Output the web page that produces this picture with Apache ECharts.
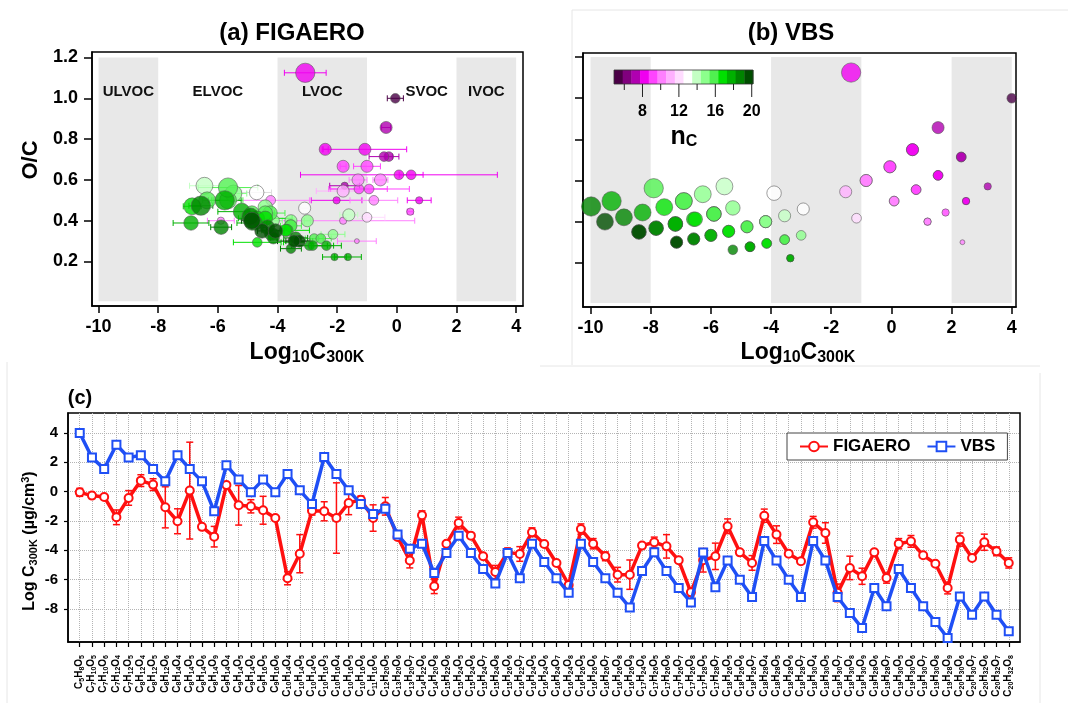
<!DOCTYPE html>
<html>
<head>
<meta charset="utf-8">
<title>FIGAERO vs VBS volatility</title>
<script src="https://cdn.jsdelivr.net/npm/echarts@6/dist/echarts.min.js"></script>
<style>
  html, body { margin: 0; padding: 0; background: #fff; }
  #chart { width: 1068px; height: 703px; }
</style>
</head>
<body>
<div id="chart"></div>
<script>
// ---- data ----
const compounds = ['C5H8O5','C7H10O5','C7H10O6','C7H12O4','C7H12O5','C8H12O4','C8H12O5','C8H12O6','C8H14O4','C8H14O5',
  'C8H14O6','C8H14O9','C9H14O4','C9H14O5','C9H14O6','C9H16O5','C9H16O6','C10H14O4','C10H14O5','C10H14O6',
  'C10H16O3','C10H16O4','C10H16O5','C10H16O6','C11H16O6','C12H20O5','C13H20O6','C13H20O7','C14H22O6','C14H20O8',
  'C15H22O6','C15H24O5','C15H24O6','C15H24O7','C15H24O8','C15H26O6','C16H22O7','C16H24O5','C16H24O6','C16H24O7',
  'C16H24O8','C16H26O5','C16H26O6','C16H26O7','C16H26O8','C16H26O9','C17H24O6','C17H26O5','C17H26O6','C17H26O7',
  'C17H26O8','C17H28O5','C17H28O7','C18H26O5','C18H26O6','C18H26O7','C18H28O4','C18H28O5','C18H28O6','C18H28O7',
  'C18H30O4','C18H30O5','C18H30O7','C18H30O8','C18H30O9','C19H28O6','C19H28O7','C19H30O5','C19H30O6','C19H30O7',
  'C19H30O8','C19H28O9','C20H30O6','C20H30O7','C20H32O6','C20H32O7','C20H32O8']

// log10 C300K from FIGAERO thermograms, with uncertainty
const figaeroLogC = [-0.05,-0.27,-0.36,-1.75,-0.43,0.75,0.48,-1.07,-2.02,0.07,
  -2.4,-3.07,0.45,-0.93,-1.0,-1.27,-1.8,-5.9,-4.23,-1.3,
  -1.34,-1.8,-0.77,-0.55,-1.8,-1.0,-3.09,-4.7,-1.61,-6.45,
  -3.55,-2.14,-3.0,-4.41,-5.48,-4.14,-4.25,-2.77,-3.57,-4.86,
  -6.36,-2.55,-3.55,-4.41,-5.66,-5.66,-3.68,-3.45,-3.73,-4.68,
  -6.86,-4.68,-4.41,-2.36,-4.14,-4.86,-1.64,-2.93,-4.23,-4.75,
  -2.09,-2.82,-6.9,-5.2,-5.77,-4.14,-5.89,-3.55,-3.39,-4.34,
  -4.91,-6.57,-3.27,-4.52,-3.45,-4.07,-4.86]
const figaeroErr = [0.27,0.12,0.15,0.5,0.5,0.4,0.4,1.4,0.85,3.3,
  0.1,0.7,0.1,1.35,0.45,0.95,0.1,0.45,1.3,0.3,
  0.65,2.4,0.8,0.25,0.9,0.6,0.15,0.5,0.3,0.5,
  0.1,0.4,0.1,0.15,0.45,0.3,0.5,0.3,0.15,0.15,
  0.15,0.35,0.35,0.3,0.5,1.0,0.1,0.35,0.8,0.15,
  0.3,0.8,0.9,0.5,0.15,0.5,0.45,0.6,0.15,0.15,
  0.4,0.7,0.6,0.8,0.55,0.1,0.35,0.35,0.4,0.15,
  0.15,0.4,0.45,0.15,0.55,0.3,0.35]
// log10 C300K from the VBS parameterisation
const vbsLogC = [4.0,2.32,1.55,3.2,2.32,2.48,1.55,0.7,2.48,1.55,
  0.7,-1.34,1.8,0.82,-0.05,0.82,-0.05,1.2,0.09,-0.84,
  2.36,1.2,0.09,-0.84,-1.52,-1.16,-2.93,-3.9,-3.55,-5.55,
  -4.18,-3.0,-4.18,-5.27,-6.27,-4.18,-5.9,-3.55,-4.8,-5.9,
  -6.9,-3.55,-4.8,-5.9,-6.9,-7.9,-5.41,-4.14,-5.41,-6.57,
  -7.55,-4.15,-6.52,-4.7,-6.0,-7.18,-3.36,-4.7,-6.0,-7.18,
  -3.36,-4.7,-7.18,-8.27,-9.3,-6.57,-7.82,-5.27,-6.57,-7.82,
  -8.89,-9.98,-7.14,-8.39,-7.14,-8.39,-9.52]

// axis ticks
const volTicks = [-10, -8, -6, -4, -2, 0, 2, 4]
const ocTicks = [0.2, 0.4, 0.6, 0.8, 1.0, 1.2]
const logCTicks = [-8, -6, -4, -2, 0, 2, 4]
const ncTicks = [8, 12, 16, 20]
const ncMinorTicks = [6, 10, 14, 18]

// volatility classes (shaded ranges and labels)
const volatilityBands = [[-10, -8], [-4, -1], [2, 4]]
const volatilityNames = ['ULVOC', 'ELVOC', 'LVOC', 'SVOC', 'IVOC']
const volatilityNamePos = [-9, -6, -2.5, 1, 3]

// nC colour table (16 steps)
const ncColors = ['#4a0046','#80007e','#b000b0','#f000f0','#ff44ff','#ff80ff','#ffb0ff','#ffdcff',
  '#ffffff','#c4ffc4','#8cff8c','#50f050','#00e000','#00b000','#008400','#004e00']
const ncRange = [4.87, 20.14]

const FONT = '"Liberation Sans", Arial, Helvetica, sans-serif'
const RED = '#ff1010'
const BLUE = '#1f4ff5'

const formulaParts = compounds.map(f => {
    const m = f.match(/C(\d+)H(\d+)O(\d+)/)
    return { nC: +m[1], nO: +m[3] }
})
const ratioOC = formulaParts.map(p => p.nO / p.nC)

const ncColor = nc => {
    const step = (ncRange[1] - ncRange[0]) / ncColors.length
    const k = Math.max(0, Math.min(ncColors.length - 1, Math.floor((nc - ncRange[0]) / step)))
    return ncColors[k]
}
const errColor = nc => (ncColor(nc) === '#ffffff' ? '#dddddd' : ncColor(nc))
const markerSize = nO => 2.4 * nO - 2.3

const formulaRich = f => f.replace(/([A-Z])(\d+)/g, '{c|$1}{s|$2}')

// ---- shared axis pieces ----
const boxAxisLine = { show: true, onZero: false, lineStyle: { color: '#000', width: 1.5 } }
const bigLabel = { fontSize: 18, fontWeight: 'bold', color: '#000', fontFamily: FONT }

const xErrorBars = (params, api) => {
    const x = api.value(0), y = api.value(1), e = api.value(2)
    const color = errColor(api.value(3))
    const a = api.coord([x - e, y]), b = api.coord([x + e, y])
    const cap = 3
    const style = { stroke: color, lineWidth: 1 }
    return {
        type: 'group',
        children: [
            { type: 'line', shape: { x1: a[0], y1: a[1], x2: b[0], y2: b[1] }, style },
            { type: 'line', shape: { x1: a[0], y1: a[1] - cap, x2: a[0], y2: a[1] + cap }, style },
            { type: 'line', shape: { x1: b[0], y1: b[1] - cap, x2: b[0], y2: b[1] + cap }, style }
        ]
    }
}

const yErrorBars = (params, api) => {
    const x = api.value(0), y = api.value(1), e = api.value(2)
    const a = api.coord([x, y + e]), b = api.coord([x, y - e])
    const cap = 3.5
    const style = { stroke: RED, lineWidth: 1.5 }
    return {
        type: 'group',
        children: [
            { type: 'line', shape: { x1: a[0], y1: a[1], x2: b[0], y2: b[1] }, style },
            { type: 'line', shape: { x1: a[0] - cap, y1: a[1], x2: a[0] + cap, y2: a[1] }, style },
            { type: 'line', shape: { x1: b[0] - cap, y1: b[1], x2: b[0] + cap, y2: b[1] }, style }
        ]
    }
}

// volatility class names placed through the axes of panel (a)
const classLabel = (params, api) => {
    const p = api.coord([api.value(0), api.value(1)])
    return {
        type: 'text', x: p[0], y: p[1],
        style: {
            text: volatilityNames[params.dataIndex],
            font: 'bold 15px ' + FONT, fill: '#111', align: 'center', verticalAlign: 'middle'
        }
    }
}

const scatterStyle = {
    color: p => ncColor(p.data[2]),
    borderColor: '#555',
    borderWidth: 0.7
}

const bandArea = {
    silent: true,
    label: { show: false },
    itemStyle: { color: '#e8e8e8' },
    data: volatilityBands.map(b => [{ xAxis: b[0], yAxis: 0.005 }, { xAxis: b[1], yAxis: 1.2 }])
}

// ---- graphic texts: titles, axis names, colour bar, panel frames ----
const logName = (x, y) => ({
    type: 'text', x, y, z: 100,
    style: {
        text: '{a|Log}{b|10}{a|C}{b|300K}',
        align: 'center', verticalAlign: 'middle',
        rich: {
            a: { fontSize: 23, fontWeight: 'bold', fontFamily: FONT, fill: '#000', lineHeight: 26, padding: [0, 0, 2, 0], verticalAlign: 'bottom' },
            b: { fontSize: 16, fontWeight: 'bold', fontFamily: FONT, fill: '#000', lineHeight: 16, verticalAlign: 'bottom' }
        }
    }
})

const graphics = [
    { type: 'text', x: 292, y: 33, style: { text: '(a) FIGAERO', font: 'bold 24px ' + FONT, fill: '#000', align: 'center', verticalAlign: 'middle' } },
    { type: 'text', x: 791, y: 33, style: { text: '(b) VBS', font: 'bold 24px ' + FONT, fill: '#000', align: 'center', verticalAlign: 'middle' } },
    { type: 'text', x: 80, y: 398, style: { text: '(c)', font: 'bold 20px ' + FONT, fill: '#000', align: 'center', verticalAlign: 'middle' } },
    { type: 'text', x: 31, y: 160, rotation: Math.PI / 2, style: { text: 'O/C', font: 'bold 22px ' + FONT, fill: '#000', align: 'center', verticalAlign: 'middle' } },
    logName(307, 353),
    logName(798, 353),
    {
        type: 'text', x: 30, y: 541, rotation: Math.PI / 2,
        style: {
            text: '{a|Log C}{b|300K}{a| (µg/cm}{p|3}{a|)}',
            align: 'center', verticalAlign: 'middle',
            rich: {
                a: { fontSize: 16, fontWeight: 'bold', fontFamily: FONT, fill: '#000', lineHeight: 19, padding: [3, 0, 2, 0], verticalAlign: 'bottom' },
                b: { fontSize: 11, fontWeight: 'bold', fontFamily: FONT, fill: '#000', lineHeight: 11, verticalAlign: 'bottom' },
                p: { fontSize: 11, fontWeight: 'bold', fontFamily: FONT, fill: '#000', lineHeight: 11, verticalAlign: 'top' }
            }
        }
    },
    // faint frames of the pasted panels
    { type: 'line', shape: { x1: 572, y1: 10, x2: 572, y2: 365 }, style: { stroke: '#e6e6e6', lineWidth: 1 } },
    { type: 'line', shape: { x1: 572, y1: 10, x2: 1068, y2: 10 }, style: { stroke: '#e6e6e6', lineWidth: 1 } },
    { type: 'line', shape: { x1: 540, y1: 366, x2: 1040, y2: 366 }, style: { stroke: '#e6e6e6', lineWidth: 1 } },
    { type: 'line', shape: { x1: 7, y1: 362, x2: 7, y2: 703 }, style: { stroke: '#e6e6e6', lineWidth: 1 } },
    { type: 'line', shape: { x1: 1040, y1: 373, x2: 1040, y2: 703 }, style: { stroke: '#e6e6e6', lineWidth: 1 } }
]

// colour bar inside panel (b)
const cbLeft = 614, cbTop = 70, cbWidth = 139, cbHeight = 14
const cbX = n => cbLeft + (n - ncRange[0]) / (ncRange[1] - ncRange[0]) * cbWidth
ncColors.forEach((c, k) => {
    const w = cbWidth / ncColors.length
    graphics.push({ type: 'rect', shape: { x: cbLeft + k * w, y: cbTop, width: w + 0.4, height: cbHeight }, style: { fill: c } })
})
graphics.push({ type: 'rect', shape: { x: cbLeft, y: cbTop, width: cbWidth, height: cbHeight }, style: { fill: 'none', stroke: '#333', lineWidth: 0.8 } })
ncMinorTicks.forEach(n => {
    graphics.push({ type: 'line', shape: { x1: cbX(n), y1: cbTop + cbHeight, x2: cbX(n), y2: cbTop + cbHeight + 6 }, style: { stroke: '#222', lineWidth: 1 } })
})
ncTicks.forEach(n => {
    graphics.push({ type: 'line', shape: { x1: cbX(n), y1: cbTop + cbHeight, x2: cbX(n), y2: cbTop + cbHeight + 13 }, style: { stroke: '#222', lineWidth: 1 } })
    graphics.push({ type: 'text', x: cbX(n), y: 112, style: { text: String(n), font: 'bold 16px ' + FONT, fill: '#000', align: 'center', verticalAlign: 'middle' } })
})
graphics.push({
    type: 'text', x: 684, y: 136,
    style: {
        text: '{n|n}{c|C}', align: 'center', verticalAlign: 'middle',
        rich: {
            n: { fontSize: 25, fontWeight: 'bold', fontFamily: FONT, fill: '#000', lineHeight: 28, verticalAlign: 'bottom' },
            c: { fontSize: 16, fontWeight: 'bold', fontFamily: FONT, fill: '#000', lineHeight: 16, verticalAlign: 'bottom' }
        }
    }
})
// keep all overlays above the shaded bands
graphics.forEach(g => { g.z = 100 })

// ---- chart ----
const chart = echarts.init(document.getElementById('chart'))

const option = {
    animation: false,
    backgroundColor: '#fff',
    textStyle: { fontFamily: FONT },
    grid: [
        { left: 92, top: 52, width: 431, height: 254, show: true, borderColor: '#000', borderWidth: 1.5 },
        { left: 583, top: 53, width: 433, height: 254, show: true, borderColor: '#000', borderWidth: 1.5 },
        { left: 68, top: 413, width: 952, height: 229, show: true, borderColor: '#000', borderWidth: 1.5 }
    ],
    xAxis: [
        {
            type: 'value', gridIndex: 0, min: -10.22, max: 4.23,
            axisLine: boxAxisLine,
            axisTick: { show: true, customValues: volTicks, length: 7, lineStyle: { color: '#000', width: 1.5 } },
            axisLabel: { customValues: volTicks, margin: 12, ...bigLabel },
            splitLine: { show: false }
        },
        {
            type: 'value', gridIndex: 1, min: -10.25, max: 4.14,
            axisLine: boxAxisLine,
            axisTick: { show: true, customValues: volTicks, length: 7, lineStyle: { color: '#000', width: 1.5 } },
            axisLabel: { customValues: volTicks, margin: 12, ...bigLabel },
            splitLine: { show: false }
        },
        {
            type: 'value', gridIndex: 2, min: -0.96, max: 76.92,
            axisLine: boxAxisLine,
            axisTick: { show: true, customValues: compounds.map((_, i) => i), length: 5, lineStyle: { color: '#000', width: 1.2 } },
            axisLabel: {
                customValues: compounds.map((_, i) => i),
                rotate: 90, margin: 13,
                formatter: v => formulaRich(compounds[Math.round(v)]),
                rich: {
                    c: { fontSize: 10, fontWeight: 'bold', color: '#000', fontFamily: FONT, lineHeight: 11, padding: [0, 0, 1, 0], verticalAlign: 'bottom' },
                    s: { fontSize: 7, fontWeight: 'bold', color: '#000', fontFamily: FONT, lineHeight: 7, verticalAlign: 'bottom' }
                }
            },
            splitLine: { show: true, lineStyle: { color: '#b4b4b4', type: 'dotted', width: 1 } }
        }
    ],
    yAxis: [
        {
            type: 'value', gridIndex: 0, min: -0.018, max: 1.227,
            axisLine: boxAxisLine,
            axisTick: { show: true, customValues: ocTicks, length: 8, lineStyle: { color: '#000', width: 1.5 } },
            axisLabel: { customValues: ocTicks, margin: 14, formatter: v => v.toFixed(1), ...bigLabel },
            splitLine: { show: false }
        },
        {
            type: 'value', gridIndex: 1, min: -0.015, max: 1.22,
            axisLine: boxAxisLine,
            axisTick: { show: true, customValues: ocTicks, length: 8, lineStyle: { color: '#000', width: 1.5 } },
            axisLabel: { show: false },
            splitLine: { show: false }
        },
        {
            type: 'value', gridIndex: 2, min: -10.25, max: 5.36,
            axisLine: boxAxisLine,
            axisTick: { show: true, customValues: logCTicks, length: 4, lineStyle: { color: '#000', width: 1.2 } },
            axisLabel: { customValues: logCTicks, margin: 10, fontSize: 15, fontWeight: 'bold', color: '#000' },
            splitLine: { show: true, lineStyle: { color: '#b4b4b4', type: 'dotted', width: 1 } }
        }
    ],
    legend: {
        data: ['FIGAERO', 'VBS'],
        left: 787, top: 433,
        padding: [5, 12, 5, 12],
        itemGap: 16, itemWidth: 28, itemHeight: 12,
        borderColor: '#444', borderWidth: 1, backgroundColor: '#fff',
        textStyle: { fontSize: 17, fontWeight: 'bold', color: '#000' }
    },
    graphic: graphics,
    series: [
        {
            name: 'bandsA', type: 'scatter', xAxisIndex: 0, yAxisIndex: 0, z: 1, silent: true,
            data: [], markArea: bandArea
        },
        {
            name: 'bandsB', type: 'scatter', xAxisIndex: 1, yAxisIndex: 1, z: 1, silent: true,
            data: [], markArea: bandArea
        },
        {
            name: 'classNames', type: 'custom', xAxisIndex: 0, yAxisIndex: 0, z: 2, silent: true,
            renderItem: classLabel,
            data: volatilityNamePos.map(x => [x, 1.032])
        },
        {
            name: 'errA', type: 'custom', xAxisIndex: 0, yAxisIndex: 0, z: 2, silent: true,
            renderItem: xErrorBars,
            data: compounds.map((_, i) => [figaeroLogC[i], ratioOC[i], figaeroErr[i], formulaParts[i].nC])
        },
        {
            name: 'pointsA', type: 'scatter', xAxisIndex: 0, yAxisIndex: 0, z: 3,
            symbolSize: v => markerSize(v[3]),
            itemStyle: scatterStyle,
            data: compounds.map((_, i) => [figaeroLogC[i], ratioOC[i], formulaParts[i].nC, formulaParts[i].nO])
        },
        {
            name: 'pointsB', type: 'scatter', xAxisIndex: 1, yAxisIndex: 1, z: 3,
            symbolSize: v => markerSize(v[3]),
            itemStyle: scatterStyle,
            data: compounds.map((_, i) => [vbsLogC[i], ratioOC[i], formulaParts[i].nC, formulaParts[i].nO])
        },
        {
            name: 'errC', type: 'custom', xAxisIndex: 2, yAxisIndex: 2, z: 3, silent: true,
            renderItem: yErrorBars,
            data: compounds.map((_, i) => [i, figaeroLogC[i], figaeroErr[i]])
        },
        {
            name: 'FIGAERO', type: 'line', xAxisIndex: 2, yAxisIndex: 2, z: 4,
            symbol: 'emptyCircle', symbolSize: 8,
            lineStyle: { color: RED, width: 3.5 },
            itemStyle: { color: RED, borderWidth: 1.6 },
            data: figaeroLogC.map((v, i) => [i, v])
        },
        {
            name: 'VBS', type: 'line', xAxisIndex: 2, yAxisIndex: 2, z: 5,
            symbol: 'emptyRect', symbolSize: 8,
            lineStyle: { color: BLUE, width: 3.5 },
            itemStyle: { color: BLUE, borderWidth: 1.6 },
            data: vbsLogC.map((v, i) => [i, v])
        }
    ]
}

chart.setOption(option)
</script>
</body>
</html>
